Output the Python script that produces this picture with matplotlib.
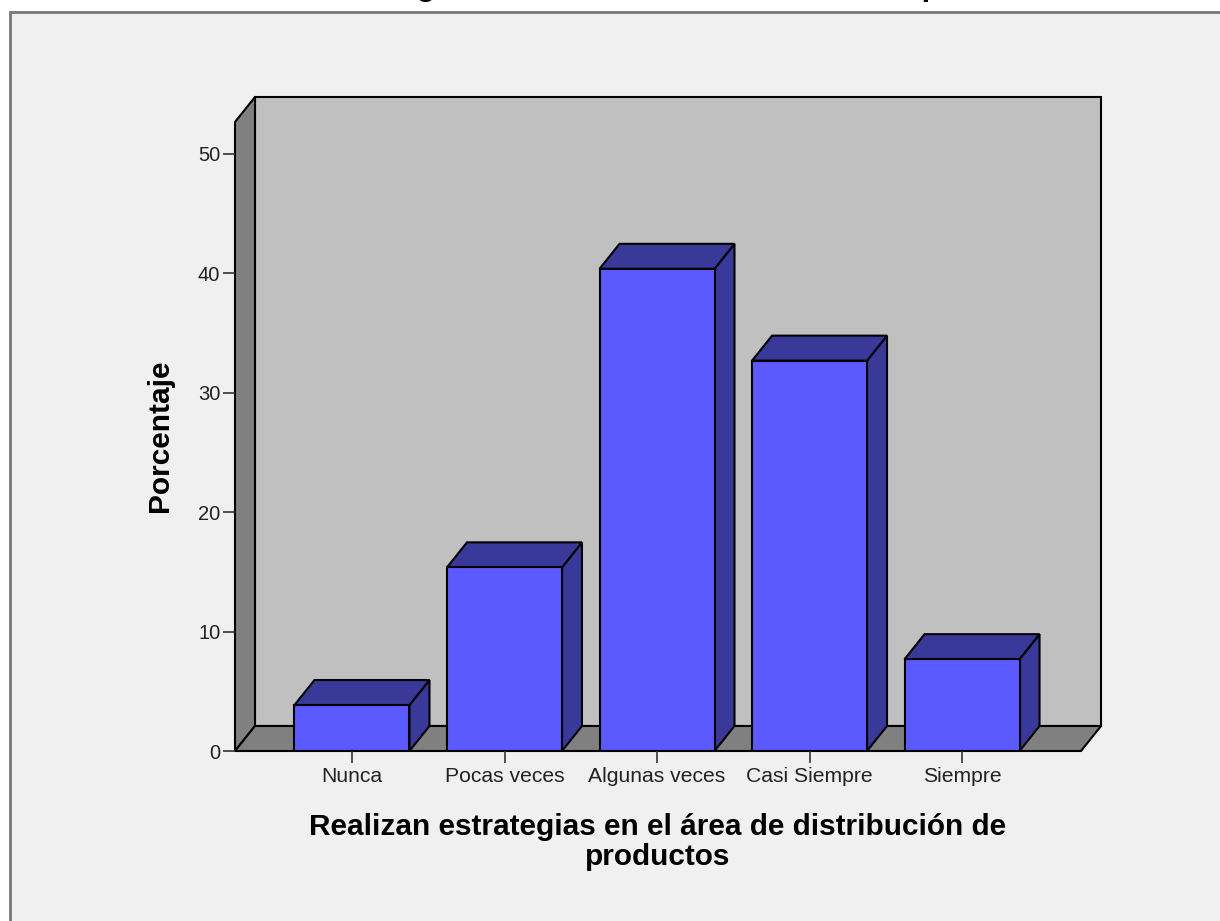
import numpy as np
import matplotlib
matplotlib.use("Agg")
import matplotlib.pyplot as plt
from matplotlib.patches import Polygon, Rectangle

plt.rcParams['font.family'] = ['Liberation Sans', 'DejaVu Sans']

#---Data
categorias = ["Nunca", "Pocas veces", "Algunas veces", "Casi Siempre", "Siempre"]
porcentajes = [3.85, 15.38, 40.38, 32.69, 7.69]
ticks_y = [0, 10, 20, 30, 40, 50]
titulo = "Realizan estrategias en el área de distribución de productos"
etiqueta_x = "Realizan estrategias en el área de distribución de\nproductos"
etiqueta_y = "Porcentaje"

# colours (SPSS style)
fondo = "#F0F0F0"
pared = "#C0C0C0"
suelo = "#808080"
cara = "#5A5AFF"
sombra = "#393999"

fig = plt.figure(figsize=(12.2, 9.21), dpi=100, facecolor="white")

# outer chart frame (right/bottom edges run off the picture)
marco = Rectangle((10 / 1220, -0.05), 1.1, 1 - 12 / 921 + 0.05,
                  transform=fig.transFigure, facecolor=fondo,
                  edgecolor="#777777", linewidth=2, zorder=-5)
fig.patches.append(marco)

ax = fig.add_axes([235 / 1220, (921 - 751) / 921, 866 / 1220, 654 / 921])
ax.set_zorder(2)
ax.set_facecolor("none")
for s in ax.spines.values():
    s.set_visible(False)

x = np.arange(len(categorias))
ancho = 0.377        # half width of a bar
dx, dy = 0.131, 2.094  # depth offset
x0, x1 = -0.767, 4.911
ytop = 54.77

ax.set_xlim(x0, x1)
ax.set_ylim(0, ytop)

lw = 1.5
# back wall, side wall and floor
ax.add_patch(Polygon([(x0 + dx, dy), (x1, dy), (x1, ytop), (x0 + dx, ytop)],
                     facecolor=pared, edgecolor="black", lw=lw, clip_on=False))
ax.add_patch(Polygon([(x0, 0), (x0 + dx, dy), (x0 + dx, ytop), (x0, ytop - dy)],
                     facecolor=suelo, edgecolor="black", lw=lw, clip_on=False))
ax.add_patch(Polygon([(x0, 0), (x1 - dx, 0), (x1, dy), (x0 + dx, dy)],
                     facecolor=suelo, edgecolor="black", lw=lw, clip_on=False))

# 3D bars
for xi, v in zip(x, porcentajes):
    a, b = xi - ancho, xi + ancho
    ax.add_patch(Polygon([(b, 0), (b + dx, dy), (b + dx, v + dy), (b, v)],
                         facecolor=sombra, edgecolor="black", lw=lw))
    ax.add_patch(Polygon([(a, v), (b, v), (b + dx, v + dy), (a + dx, v + dy)],
                         facecolor=sombra, edgecolor="black", lw=lw))
    ax.add_patch(Rectangle((a, 0), 2 * ancho, v,
                           facecolor=cara, edgecolor="black", lw=lw))

ax.set_xticks(x)
ax.set_xticklabels(categorias, fontsize=15.2, color="#222222")
ax.set_yticks(ticks_y)
ax.set_yticklabels([str(t) for t in ticks_y], fontsize=14.5, color="#222222")
ax.tick_params(axis="x", length=8.6, width=1.2, color="#333333", pad=3)
ax.tick_params(axis="y", length=8.6, width=1.2, color="#333333", pad=2)

fig.text(160 / 1220, 1 - 436 / 921, etiqueta_y, rotation=90, ha="center",
         va="center", fontsize=21.5, fontweight="bold")
fig.text(658 / 1220, 1 - 842 / 921, etiqueta_x, ha="center", va="center",
         fontsize=21.4, fontweight="bold", linespacing=1.1)
# title sits above the picture, only descenders show
fig.text(626 / 1220, 1 + 5.5 / 921, titulo, ha="center", va="baseline",
         fontsize=22.6, fontweight="bold")

fig.savefig("out.png", dpi=100, facecolor="white")
